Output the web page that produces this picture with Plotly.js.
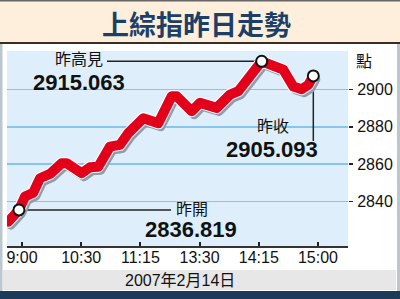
<!DOCTYPE html>
<html>
<head>
<meta charset="utf-8">
<script src="https://cdn.plot.ly/plotly-3.0.1.min.js"></script>
<style>
html,body{margin:0;padding:0;background:#fff;}
#chart{width:400px;height:299px;}
.scatterlayer path.js-line{stroke-linejoin:round;stroke-linecap:round;}
</style>
</head>
<body>
<div id="chart"></div>
<script>
// Axis positions: 0 = 9:00, 1 = 10:30, 2 = 11:15, 3 = 13:30, 4 = 14:15, 5 = 15:00
const tickPos = [0, 1, 2, 3, 4, 5];
const tickText = ["9:00", "10:30", "11:15", "13:30", "14:15", "15:00"];
const yTicks = [2840, 2860, 2880, 2900];

const xPos = [-0.231,-0.051,0.051,0.191,0.304,0.473,0.671,0.755,1.008,1.149,1.289,1.486,1.655,1.796,2.049,2.302,2.529,2.613,2.867,3.007,3.289,3.514,3.654,3.796,4.049,4.414,4.583,4.725,4.836,4.921];
const index = [2829.3,2835.6,2842.7,2844.8,2852.5,2854.8,2860.5,2860.5,2855.2,2858.4,2858.7,2869.4,2870.3,2876.6,2884.6,2881.9,2896.3,2896.3,2888.3,2892.8,2890.1,2897.2,2899.0,2904.3,2915.0,2910.5,2901.5,2900.1,2902.4,2907.2];

const keyIdx = [1, 24, 29]; // open, high, close
const keyLabels = ["昨開", "昨高見", "昨收"];
const keyValues = ["2836.819", "2915.063", "2905.093"];

const titleText = "上綜指昨日走勢";
const dateText = "2007年2月14日";
const unitText = "點";

// geometry helpers (page pixels -> paper)
const L = 7, R = 348, T = 51, B = 246;
const X = px => (px - L) / (R - L);
const Y = py => (B - py) / (B - T);
const xRange = [-0.253, 5.507];
const yRange = [2816.3, 2920.5];
const pxPerX = (R - L) / (xRange[1] - xRange[0]);
const pxPerY = (B - T) / (yRange[1] - yRange[0]);
const dxS = 2.5, dyS = 3.5;

const cjk = "Liberation Sans, Arial, Noto Sans CJK TC, sans-serif";

const traces = [
  {x: xPos, y: index, xaxis: 'x2', yaxis: 'y2', mode: 'lines',
   line: {color: '#8f9cab', width: 9}, hoverinfo: 'skip'},
  {x: xPos, y: index, xaxis: 'x3', yaxis: 'y3', mode: 'lines', line: {color: '#ffffff', width: 12}, hoverinfo: 'skip'},
  {x: xPos, y: index, xaxis: 'x3', yaxis: 'y3', mode: 'lines', line: {color: '#e2001a', width: 10}},
  {x: keyIdx.map(i => xPos[i]), y: keyIdx.map(i => index[i]), xaxis: 'x3', yaxis: 'y3', mode: 'markers',
   marker: {size: 11, color: '#ffffff', line: {color: '#111', width: 2}}}
];

const toX = px => xRange[0] + (px - L) / pxPerX;
const toY = py => yRange[1] - (py - T) / pxPerY;

const shapes = [
  {type: 'rect', xref: 'paper', yref: 'paper', x0: X(0), x1: X(400), y0: Y(43), y1: Y(0), fillcolor: '#fdefdb', line: {width: 0}, layer: 'below'},
  {type: 'line', xref: 'paper', yref: 'paper', x0: X(0), x1: X(400), y0: Y(0.7), y1: Y(0.7), line: {color: '#666', width: 1.5}},
  {type: 'line', xref: 'paper', yref: 'paper', x0: X(0), x1: X(400), y0: Y(43), y1: Y(43), line: {color: '#3b2d22', width: 2}},
  {type: 'rect', xref: 'paper', yref: 'paper', x0: X(0), x1: X(2.5), y0: Y(291), y1: Y(44), fillcolor: '#bcc6ce', line: {width: 0}},
  {type: 'rect', xref: 'paper', yref: 'paper', x0: X(397), x1: X(400), y0: Y(291), y1: Y(44), fillcolor: '#bcc6ce', line: {width: 0}},
  {type: 'rect', xref: 'paper', yref: 'paper', x0: X(3), x1: X(396), y0: Y(290), y1: Y(270), fillcolor: '#e7e7e7', line: {width: 0}},
  {type: 'rect', xref: 'paper', yref: 'paper', x0: X(0), x1: X(400), y0: Y(299.5), y1: Y(291), fillcolor: '#1d3b58', line: {width: 0}},
  // connectors
  {type: 'line', xref: 'x', yref: 'y', layer: 'between', x0: xPos[keyIdx[0]], x1: toX(171), y0: index[keyIdx[0]], y1: index[keyIdx[0]], line: {color: '#222', width: 1.5}},
  {type: 'line', xref: 'x', yref: 'y', layer: 'between', x0: toX(107), x1: xPos[keyIdx[1]], y0: index[keyIdx[1]], y1: index[keyIdx[1]], line: {color: '#222', width: 1.5}},
  {type: 'line', xref: 'x', yref: 'y', layer: 'between', x0: xPos[keyIdx[2]], x1: xPos[keyIdx[2]], y0: index[keyIdx[2]], y1: toY(141), line: {color: '#222', width: 1.5}}
];

const ann = (text, px, py, size, opts = {}) => Object.assign({
  text, xref: 'paper', yref: 'paper', x: X(px), y: Y(py), xanchor: 'center', yanchor: 'middle',
  showarrow: false, font: {family: cjk, size, color: '#111'}
}, opts);

const annotations = [
  ann('<b>' + titleText + '</b>', 197, 23, 27, {font: {family: 'Noto Sans CJK TC, sans-serif', size: 27, color: '#1b3f67'}}),
  ann(keyLabels[1], 79, 60, 16),
  ann('<b>' + keyValues[1] + '</b>', 79, 82, 22),
  ann(keyLabels[2], 273, 127, 16),
  ann('<b>' + keyValues[2] + '</b>', 272, 149, 22),
  ann(keyLabels[0], 192, 209, 16),
  ann('<b>' + keyValues[0] + '</b>', 191, 229, 22),
  ann(unitText, 364, 61, 16),
  ann(dateText, 180, 280, 16)
];

const layout = {
  width: 400, height: 299,
  margin: {l: L, r: 400 - R, t: T, b: 299 - B, pad: 0},
  paper_bgcolor: '#ffffff', plot_bgcolor: '#deeffb',
  showlegend: false,
  xaxis: {range: xRange, tickvals: tickPos, ticktext: tickText, ticks: 'inside', ticklen: 4, tickwidth: 2,
          tickcolor: '#222', showline: true, linecolor: '#333', linewidth: 1.5, showgrid: false, zeroline: false,
          ticklabelstandoff: -4,
          tickfont: {family: cjk, size: 16, color: '#111'}, fixedrange: true},
  yaxis: {range: yRange, side: 'right', tickvals: yTicks, ticks: 'outside', ticklen: 4, tickcolor: '#222', tickwidth: 1.5,
          showgrid: true, gridcolor: '#86c6ee', gridwidth: 1.5, zeroline: false, showline: false,
          ticklabelstandoff: 1,
          tickfont: {family: cjk, size: 16, color: '#111'}, fixedrange: true},
  xaxis2: {overlaying: 'x', range: [xRange[0] - dxS / pxPerX, xRange[1] - dxS / pxPerX], visible: false, fixedrange: true},
  yaxis2: {overlaying: 'y', range: [yRange[0] + dyS / pxPerY, yRange[1] + dyS / pxPerY], visible: false, fixedrange: true},
  xaxis3: {overlaying: 'x', range: xRange, visible: false, fixedrange: true},
  yaxis3: {overlaying: 'y', range: yRange, visible: false, fixedrange: true},
  shapes, annotations
};

Plotly.newPlot('chart', traces, layout, {displayModeBar: false, staticPlot: true});
</script>
</body>
</html>
